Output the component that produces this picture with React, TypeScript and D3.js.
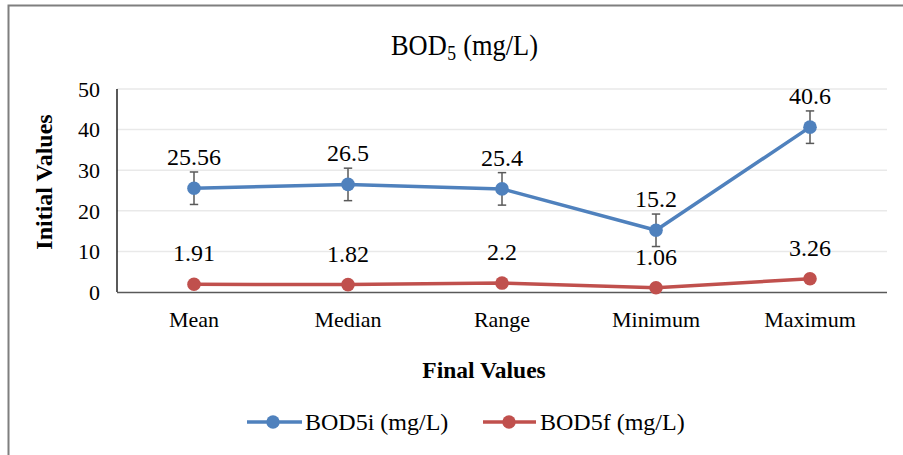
import React from "react";
import * as d3 from "d3";

const categories = ["Mean", "Median", "Range", "Minimum", "Maximum"];
const bod5i = [25.56, 26.5, 25.4, 15.2, 40.6];
const bod5f = [1.91, 1.82, 2.2, 1.06, 3.26];
const bod5iError = [4, 4, 4, 4, 4];
const bod5iLabels = ["25.56", "26.5", "25.4", "15.2", "40.6"];
const bod5fLabels = ["1.91", "1.82", "2.2", "1.06", "3.26"];
const yTicks = [0, 10, 20, 30, 40, 50];
const seriesNames = ["BOD5i (mg/L)", "BOD5f (mg/L)"];

const W = 903;
const H = 455;
const BLUE = "#4F81BD";
const RED = "#C0504D";
const FONT = "Liberation Serif";

const T = (props: any) => <text fontFamily={FONT} style={{ fontFamily: FONT }} {...props} />;

export default function App() {
  const x = d3.scaleBand().domain(categories).range([117, 887]).padding(0);
  const y = d3.scaleLinear().domain([0, 50]).range([292, 89]);
  const cx = (c: string) => (x(c) as number) + x.bandwidth() / 2;
  const line = d3
    .line<number>()
    .x((_, i) => cx(categories[i]))
    .y((d) => y(d));

  return (
    <svg
      width={W}
      height={H}
      style={{ position: "absolute", left: 0, top: 0, fontFamily: FONT }}
    >
      <rect x={0} y={0} width={W} height={H} fill="#fff" />
      <rect x={8.5} y={5.5} width={W + 10} height={H + 10} fill="none" stroke="#7f7f7f" strokeWidth={2} />
      <g transform="translate(391,55) scale(0.88,1)">
        <T x={0} y={0} fontSize={30} fill="#000">BOD</T>
        <T x={64} y={5} fontSize={20} fill="#000">5</T>
        <T x={82} y={0} fontSize={30} fill="#000">(mg/L)</T>
      </g>
      {yTicks.map((t) => (
        <g key={t}>
          {t > 0 && (
            <line x1={117} x2={887} y1={y(t)} y2={y(t)} stroke="#e9e9e9" strokeWidth={1.5} />
          )}
          <T x={100} y={y(t)} dy="0.35em" textAnchor="end" fontSize={22} fill="#000">
            {t}
          </T>
        </g>
      ))}
      <line x1={117} x2={117} y1={89} y2={292} stroke="#000" strokeWidth={1.3} />
      <line x1={117} x2={887} y1={292.5} y2={292.5} stroke="#595959" strokeWidth={1.3} />
      {categories.map((c) => (
        <T key={c} x={cx(c)} y={327} textAnchor="middle" fontSize={22} fill="#000">
          {c}
        </T>
      ))}
      <T x={484} y={378} textAnchor="middle" fontSize={23.5} fontWeight="bold" fill="#000">
        Final Values
      </T>
      <T
        transform={`translate(52,182) rotate(-90)`}
        textAnchor="middle"
        fontSize={24}
        fontWeight="bold"
        fill="#000"
      >
        Initial Values
      </T>
      <path d={line(bod5f) as string} fill="none" stroke={RED} strokeWidth={3.5} strokeLinejoin="round" />
      <path d={line(bod5i) as string} fill="none" stroke={BLUE} strokeWidth={3.5} strokeLinejoin="round" />
      {bod5i.map((v, i) => {
        const px = cx(categories[i]);
        const e = bod5iError[i];
        return (
          <g key={"e" + i} stroke="#595959" strokeWidth={1.5}>
            <line x1={px} x2={px} y1={y(v + e)} y2={y(v - e)} />
            <line x1={px - 4.2} x2={px + 4.2} y1={y(v + e)} y2={y(v + e)} />
            <line x1={px - 4.2} x2={px + 4.2} y1={y(v - e)} y2={y(v - e)} />
          </g>
        );
      })}
      {bod5i.map((v, i) => (
        <circle key={"bi" + i} cx={cx(categories[i])} cy={y(v)} r={6.8} fill={BLUE} />
      ))}
      {bod5f.map((v, i) => (
        <circle key={"bf" + i} cx={cx(categories[i])} cy={y(v)} r={6.8} fill={RED} />
      ))}
      {bod5i.map((v, i) => (
        <T key={"li" + i} x={cx(categories[i])} y={y(v) - 23} textAnchor="middle" fontSize={24} fill="#000">
          {bod5iLabels[i]}
        </T>
      ))}
      {bod5f.map((v, i) => (
        <T key={"lf" + i} x={cx(categories[i])} y={y(v) - 23} textAnchor="middle" fontSize={24} fill="#000">
          {bod5fLabels[i]}
        </T>
      ))}
      <g>
        <line x1={247} x2={302} y1={422} y2={422} stroke={BLUE} strokeWidth={3.5} />
        <circle cx={273} cy={422} r={6.7} fill={BLUE} />
        <T x={305} y={422} dy="0.35em" fontSize={24} fill="#000">
          {seriesNames[0]}
        </T>
        <line x1={483} x2={536} y1={422} y2={422} stroke={RED} strokeWidth={3.5} />
        <circle cx={509} cy={422} r={6.7} fill={RED} />
        <T x={540} y={422} dy="0.35em" fontSize={24} fill="#000">
          {seriesNames[1]}
        </T>
      </g>
    </svg>
  );
}
